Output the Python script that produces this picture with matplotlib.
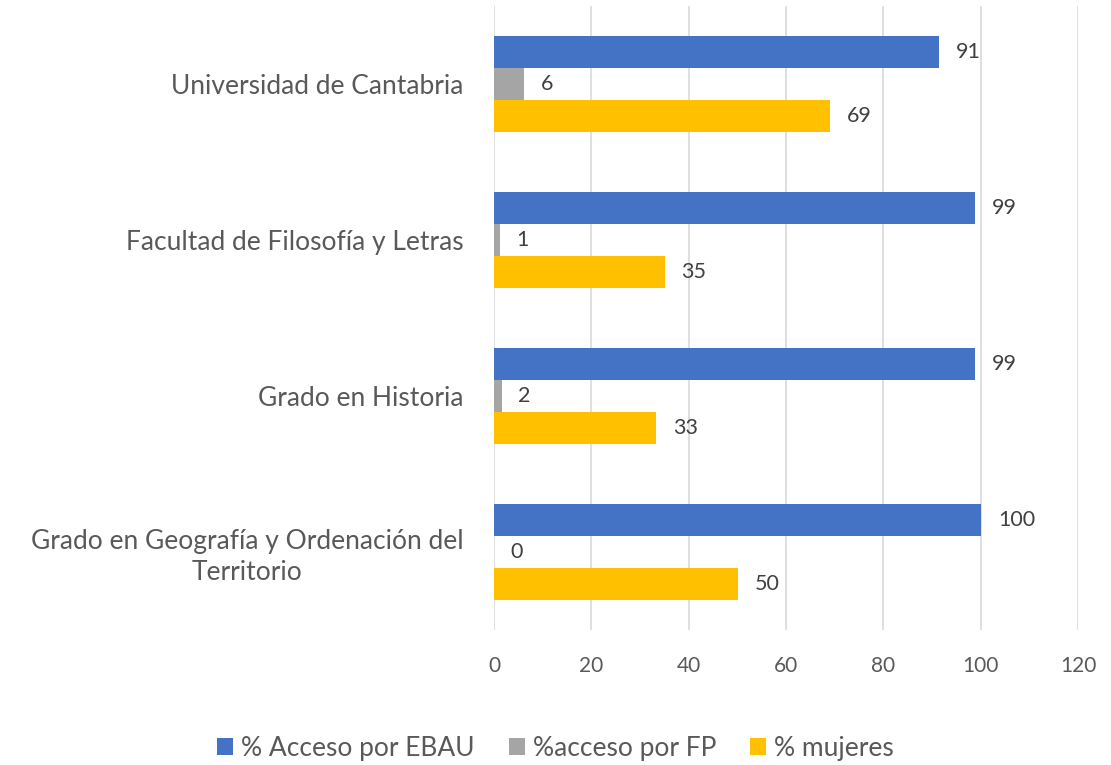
import numpy as np
import matplotlib.pyplot as plt

plt.rcParams['font.family'] = ['Lato', 'DejaVu Sans']

categories = ["Universidad de Cantabria", "Facultad de Filosofía y Letras",
              "Grado en Historia", "Grado en Geografía y Ordenación del\nTerritorio"]
ebau = [91.4, 98.8, 98.8, 100.1]
fp = [6.2, 1.2, 1.6, 0.0]
mujeres = [69.0, 35.1, 33.3, 50.1]
series_names = ["% Acceso por EBAU", "%acceso por FP", "% mujeres"]
colors = ["#4472C4", "#A5A5A5", "#FFC000"]
txt = "#595959"

fig = plt.figure(figsize=(11.11, 7.65), dpi=100)
ax = fig.add_axes([0.4446, 0.1765, 0.5257, 0.8155])

y = np.arange(len(categories))[::-1]
h = 0.205
for vals, off, c, name in zip([ebau, fp, mujeres], [h, 0, -h], colors, series_names):
    bars = ax.barh(y + off, vals, height=h, color=c, label=name, zorder=3)
    for b, v in zip(bars, vals):
        ax.annotate(f"{v:.0f}", (b.get_width(), b.get_y() + h / 2), xytext=(12, 0),
                    textcoords="offset points", va="center", ha="left",
                    fontsize=15.5, color="#404040")

ax.set_xlim(0, 120)
ax.set_ylim(-0.5, 3.5)
ax.set_xticks(range(0, 121, 20))
ax.set_yticks(y)
ax.set_yticklabels(categories, fontsize=19, color=txt, multialignment="center",
                   linespacing=1.3)
ax.tick_params(axis="x", labelsize=15, colors=txt, length=0, pad=19)
ax.tick_params(axis="y", length=0, pad=22)
ax.grid(axis="x", color="#D9D9D9", linewidth=1.2, zorder=0)
for s in ax.spines.values():
    s.set_visible(False)

leg = fig.legend(loc="lower center", bbox_to_anchor=(0.5, -0.026), ncol=3, frameon=False,
                 fontsize=19, handlelength=0.6, handleheight=0.6, columnspacing=1.3,
                 handletextpad=0.3)
for t in leg.get_texts():
    t.set_color(txt)

fig.savefig("out.png", dpi=100)
